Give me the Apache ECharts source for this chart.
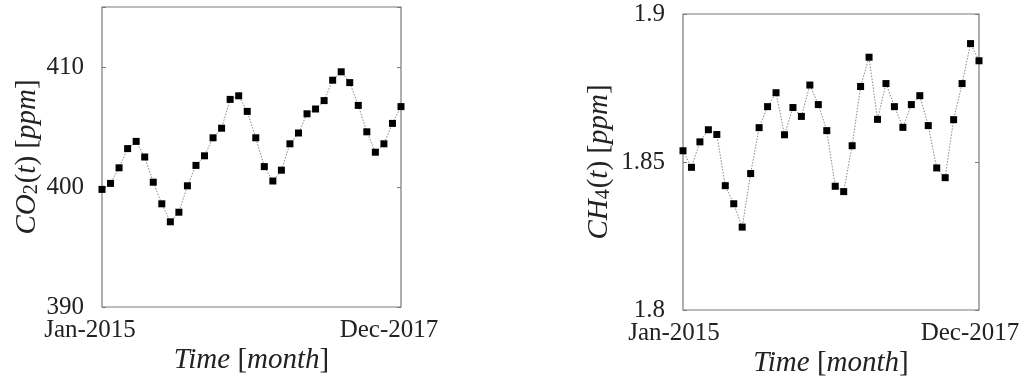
<!DOCTYPE html>
<html>
<head>
<meta charset="utf-8">
<script src="https://cdn.jsdelivr.net/npm/echarts@6/dist/echarts.min.js"></script>
<style>
html,body{margin:0;padding:0;background:#fff;}
#c{width:1022px;height:376px;}
</style>
</head>
<body>
<div id="c"></div>
<script>
// ---- data ----
const months = [];
const monNames = ['Jan','Feb','Mar','Apr','May','Jun','Jul','Aug','Sep','Oct','Nov','Dec'];
for (const yr of [2015, 2016, 2017]) for (const m of monNames) months.push(m + '-' + yr);

const co2 = [399.8, 400.3, 401.6, 403.2, 403.8, 402.5, 400.4, 398.6, 397.1, 397.9, 400.1, 401.8,
             402.6, 404.1, 404.9, 407.3, 407.6, 406.3, 404.1, 401.7, 400.5, 401.4, 403.6, 404.5,
             406.1, 406.5, 407.2, 408.9, 409.6, 408.7, 406.8, 404.6, 402.9, 403.6, 405.3, 406.7];

const ch4 = [1.8538, 1.8482, 1.8568, 1.8609, 1.8593, 1.8420, 1.8359, 1.8280, 1.8461, 1.8616, 1.8687, 1.8734,
             1.8592, 1.8684, 1.8654, 1.8760, 1.8694, 1.8606, 1.8418, 1.8400, 1.8555, 1.8755, 1.8854, 1.8644,
             1.8765, 1.8687, 1.8617, 1.8694, 1.8724, 1.8623, 1.8480, 1.8447, 1.8643, 1.8765, 1.8900, 1.8842];

const co2Ticks = {min: 390, max: 415, interval: 10, labels: [390, 400, 410]};
const ch4Ticks = {min: 1.8, max: 1.9, interval: 0.05, labels: [1.8, 1.85, 1.9]};

// ---- chart ----
const FONT = "'Liberation Serif', 'DejaVu Serif', serif";
const TXT = '#222';
const FRAME = '#7a7a7a';
const TICKFS = 25;
const TITLEFS = 29;

const chart = echarts.init(document.getElementById('c'), null, {renderer: 'canvas'});

function richTitle(size, lh) {
  return {
    fontFamily: FONT, fontSize: size, color: TXT,
    rich: {
      i: {fontFamily: FONT, fontSize: size, fontStyle: 'italic', color: TXT, lineHeight: lh, verticalAlign: 'bottom'},
      u: {fontFamily: FONT, fontSize: size, color: TXT, lineHeight: lh, verticalAlign: 'bottom'},
      s: {fontFamily: FONT, fontSize: Math.round(size * 0.68), color: TXT, lineHeight: lh - 7, verticalAlign: 'bottom', padding: [0, 1, 0, 0]}
    }
  };
}

function xAxisFor(gridIndex, shift) {
  return {
    type: 'category', gridIndex, data: months, boundaryGap: false,
    axisLine: {show: false},
    axisTick: {show: false},
    axisLabel: {
      interval: (i) => i === 0 || i === months.length - 1,
      fontFamily: FONT, fontSize: TICKFS, color: TXT, margin: 11,
      padding: [0, shift * 2, 0, 0]
    },
    splitLine: {show: false},
    name: '{i|Time} {u|[}{i|month}{u|]}',
    nameLocation: 'middle', nameGap: 38, nameMoveOverlap: false,
    nameTextStyle: richTitle(TITLEFS, 30)
  };
}

function yAxisFor(gridIndex, t, name, gap, labelMargin) {
  return [{
    type: 'value', gridIndex, min: t.min, max: t.max, interval: t.interval,
    axisLine: {show: false},
    axisTick: {show: true, inside: true, length: 4, lineStyle: {color: FRAME, width: 1}},
    axisLabel: {fontFamily: FONT, fontSize: TICKFS, color: TXT, margin: labelMargin,
      formatter: (v) => {
        const hit = t.labels.find(l => Math.abs(l - v) < 1e-9);
        return hit === undefined ? '' : String(hit);
      }},
    splitLine: {show: false},
    name: name, nameLocation: 'middle', nameRotate: 90, nameGap: gap,
    nameTextStyle: richTitle(TITLEFS, 34)
  }, {
    type: 'value', gridIndex, min: t.min, max: t.max, interval: t.interval, position: 'right',
    axisLine: {show: false},
    axisTick: {show: true, inside: true, length: 4, lineStyle: {color: FRAME, width: 1}},
    axisLabel: {show: false},
    splitLine: {show: false}
  }];
}

function seriesFor(idx, data) {
  return {
    type: 'line', xAxisIndex: idx, yAxisIndex: idx * 2, data: data,
    symbol: 'rect', symbolSize: 7, showAllSymbol: true,
    itemStyle: {color: '#000'},
    lineStyle: {color: '#888', width: 1, type: [1.5, 1.5]},
    animation: false
  };
}

const yl = yAxisFor(0, co2Ticks, '{i|CO}{s|2}{u|(}{i|t}{u|)} {u|[}{i|ppm}{u|]}', 60, 18);
const yr = yAxisFor(1, ch4Ticks, '{i|CH}{s|4}{u|(}{i|t}{u|)} {u|[}{i|ppm}{u|]}', 69, 18);

chart.setOption({
  animation: false,
  backgroundColor: '#fff',
  grid: [
    {left: 102, right: 621, top: 7, bottom: 69, outerBoundsMode: 'none', containLabel: false,
     show: true, borderColor: FRAME, borderWidth: 1.2, backgroundColor: 'transparent'},
    {left: 683, right: 43, top: 14, bottom: 66, outerBoundsMode: 'none', containLabel: false,
     show: true, borderColor: FRAME, borderWidth: 1.2, backgroundColor: 'transparent'}
  ],
  xAxis: [xAxisFor(0, 12), xAxisFor(1, 9)],
  yAxis: [yl[0], yl[1], yr[0], yr[1]],
  series: [seriesFor(0, co2), seriesFor(1, ch4)]
});
</script>
</body>
</html>
